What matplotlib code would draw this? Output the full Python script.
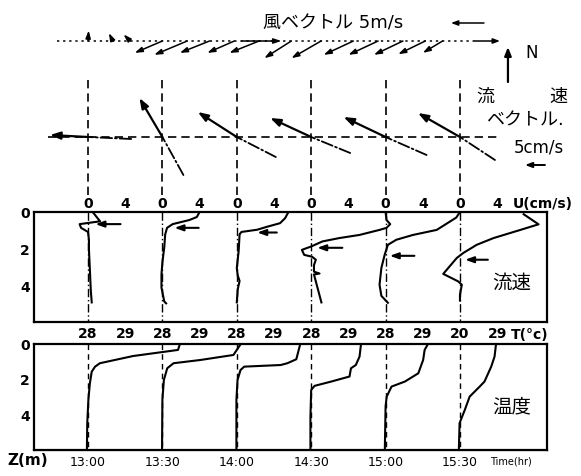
import matplotlib
matplotlib.use("Agg")
import matplotlib.pyplot as plt

plt.rcParams['font.family'] = ['DejaVu Sans', 'Noto Sans CJK JP']

# ---------------- data ----------------
times = [13.0, 13.5, 14.0, 14.5, 15.0, 15.5]          # hours
time_labels = ['13:00', '13:30', '14:00', '14:30', '15:00', '15:30']

# wind (minutes after 13:00, east / north components in m/s)
wind_min = [0, 10, 17, 30, 40, 49, 59, 62, 69, 82, 94, 107, 117, 127, 136, 143]
wind_u = [0.1, -0.6, -1.0, -4.2, -5.0, -4.5, -4.1, 6.0, -4.5, -4.1, -4.5, -4.5, -4.5, -4.4, -4.1, -3.0]
wind_v = [1.6, 1.2, 1.0, -1.8, -2.1, -1.8, -1.8, 0.0, -1.8, -2.6, -2.6, -2.1, -2.1, -2.1, -2.0, -1.8]

# current vectors (cm/s): surface (solid) and lower layer (dash-dot)
surf_u = [-9.5, -5.75, -9.75, -10.25, -10.5, -10.5]
surf_v = [0.5, 9.75, 6.25, 4.75, 5.0, 6.0]
bot_u = [10.8, 5.25, 9.75, 9.75, 10.25, 8.75]
bot_v = [-0.5, -9.5, -5.0, -4.0, -4.5, -5.75]

# velocity profiles U (cm/s) vs depth (m)
u_depth = [
    [0.0, 0.5, 0.65, 0.85, 1.07, 1.5, 2.0, 3.1, 4.2, 4.85],
    [0.0, 0.27, 0.43, 0.65, 0.85, 1.2, 1.9, 2.7, 3.35, 4.05, 4.8, 4.9],
    [0.05, 0.33, 0.6, 0.8, 0.95, 1.07, 1.2, 2.1, 3.0, 3.4, 3.7, 4.15, 4.85],
    [0.0, 0.43, 0.65, 0.85, 0.96, 1.23, 1.4, 1.58, 1.85, 2.03, 2.3, 2.4, 2.56, 2.85, 3.2, 3.3, 3.35, 4.85],
    [0.0, 0.3, 0.96, 1.23, 1.49, 1.76, 2.3, 3.0, 3.9, 4.5, 4.87],
    [0.12, 0.66, 0.96, 1.4, 1.76, 2.2, 2.47, 3.32, 3.72, 3.9, 4.43, 4.75],
]
u_speed = [
    [0.5, 1.3, -0.9, -0.75, 0.0, 0.1, 0.1, 0.2, 0.3, 0.4],
    [4.0, 3.7, 2.9, 1.1, 0.5, 0.3, 0.2, 0.0, -0.1, -0.1, 0.2, 0.4],
    [5.5, 5.2, 4.65, 3.2, 2.2, 0.5, 0.3, 0.2, 0.0, 0.1, 0.3, 0.1, 0.0],
    [8.0, 8.1, 8.5, 8.1, 7.35, 5.2, 3.0, 1.2, 0.0, -1.0, -0.75, 0.1, 0.5, 0.3, 0.3, 0.9, 0.3, 1.1],
    [8.0, 7.6, 5.5, 2.95, 1.15, 0.25, -0.1, -0.45, -0.65, -0.45, 0.25],
    [6.85, 8.45, 6.5, 3.6, 1.8, 0.35, -0.35, -1.8, -0.2, 0.2, 0.0, 0.0],
]
# marker arrows in the velocity panel (depth, start U, end U)
mark_depth = [0.65, 0.85, 1.1, 1.92, 2.35, 2.56]
mark_u0 = [3.5, 3.9, 4.3, 3.35, 3.1, 3.0]
mark_u1 = [0.8, 1.3, 2.2, 0.65, 0.45, 0.55]

# temperature profiles T (deg C) vs depth (m)
t_depth = [
    [0.0, 0.33, 0.67, 1.07, 1.26, 1.54, 2.19, 3.1, 4.4, 5.9],
    [0.05, 0.61, 0.89, 1.07, 1.35, 2.0, 3.1, 5.9],
    [0.05, 0.85, 1.07, 1.17, 1.26, 1.45, 2.0, 3.1, 5.9],
    [0.0, 0.7, 1.17, 1.35, 1.81, 2.09, 2.33, 2.56, 4.04, 5.9],
    [0.0, 0.33, 0.89, 1.63, 2.09, 2.37, 2.93, 3.48, 5.9],
    [0.0, 0.7, 1.26, 2.09, 2.37, 2.93, 3.67, 4.4, 5.9],
]
t_temp = [
    [30.47, 30.42, 29.21, 28.32, 28.19, 28.1, 28.05, 28.01, 27.98, 27.97],
    [30.09, 29.91, 29.02, 28.3, 28.13, 28.04, 28.0, 27.99],
    [29.7, 29.6, 29.36, 29.18, 28.2, 28.1, 28.02, 27.99, 27.99],
    [29.34, 29.3, 29.2, 29.07, 29.03, 28.54, 28.09, 28.0, 27.98, 27.98],
    [29.14, 29.05, 29.01, 28.88, 28.52, 28.16, 28.03, 28.0, 27.98],
    [28.97, 28.93, 28.84, 28.66, 28.53, 28.26, 28.13, 27.99, 27.97],
]

u_ticks = [0, 4]
t_ticks = [28, 29]
t_base_labels = ['28', '28', '28', '28', '28', '20']

# ---------------- layout ----------------
W, H = 581, 476
U_SCALE = 1 / 16.0      # hours per cm/s in the velocity panel
T_SCALE = 1 / 4.0       # hours per deg C in the temperature panel
T_REF = 28.0
WIND_PT = 4.75          # points per m/s
CUR_PT = 2.88           # points per cm/s
XLIM = (12.637, 16.085)
ZMAX = 5.9


def px2h(px):
    return 13.0 + (px - 88) / 148.8


def box(l, t, r, b):
    return [l / W, 1 - b / H, (r - l) / W, (b - t) / H]


fig = plt.figure(figsize=(W / 100, H / 100), dpi=100)
ax_v = fig.add_axes(box(34, 0, 547, 212))
ax_u = fig.add_axes(box(34, 212, 547, 322))
ax_t = fig.add_axes(box(34, 344, 547, 450))

tick_font = dict(fontsize=10, fontweight='bold')

# ---------- vector area ----------
ax_v.set_xlim(*XLIM)
ax_v.set_ylim(212, 0)
ax_v.axis('off')

# wind stick plot
y_w = 41
ax_v.plot([px2h(57), px2h(475)], [y_w, y_w], color='k', lw=1.1, ls=(0, (1.5, 2.5)))
ax_v.annotate('', xy=(px2h(500), y_w), xytext=(px2h(475), y_w),
              arrowprops=dict(arrowstyle='-|>,head_length=0.4,head_width=0.15',
                              color='k', lw=1.1, shrinkA=0, shrinkB=0))
for m, u, v in zip(wind_min, wind_u, wind_v):
    ax_v.annotate('', xy=(13.0 + m / 60.0, y_w), xytext=(u * WIND_PT, v * WIND_PT),
                  textcoords='offset points',
                  arrowprops=dict(arrowstyle='<|-,head_length=0.45,head_width=0.15',
                                  color='k', lw=1.1, shrinkA=0, shrinkB=0))

ax_v.text(px2h(263), 23, '風ベクトル 5m/s', fontsize=13, va='center', ha='left')
ax_v.annotate('', xy=(px2h(484), 23), xytext=(-5 * WIND_PT, 0), textcoords='offset points',
              arrowprops=dict(arrowstyle='<|-,head_length=0.4,head_width=0.15',
                              color='k', lw=1.1, shrinkA=0, shrinkB=0))
ax_v.annotate('', xy=(px2h(508), 47), xytext=(px2h(508), 82),
              arrowprops=dict(arrowstyle='-|>,head_length=0.5,head_width=0.2',
                              color='k', lw=1.6, shrinkA=0, shrinkB=0))
ax_v.text(px2h(532), 53, 'N', fontsize=12, va='center', ha='center')

# current vectors
y_c = 137
ax_v.plot([px2h(48), px2h(497)], [y_c, y_c], color='k', lw=1.2, ls=(0, (5, 3)))
for t in times:
    ax_v.plot([t, t], [80, 197], color='k', lw=1.2, ls=(0, (5, 3)))
for t, su, sv, bu, bv in zip(times, surf_u, surf_v, bot_u, bot_v):
    ax_v.annotate('', xy=(t, y_c), xytext=(bu * CUR_PT, bv * CUR_PT), textcoords='offset points',
                  arrowprops=dict(arrowstyle='-', color='k', lw=1.3, ls='-.',
                                  shrinkA=0, shrinkB=0))
    ax_v.annotate('', xy=(t, y_c), xytext=(su * CUR_PT, sv * CUR_PT), textcoords='offset points',
                  arrowprops=dict(arrowstyle='<|-,head_length=0.6,head_width=0.22',
                                  color='k', lw=1.6, shrinkA=0, shrinkB=0))

ax_v.text(px2h(485), 97, '流', fontsize=13, va='center', ha='center')
ax_v.text(px2h(558), 97, '速', fontsize=13, va='center', ha='center')
ax_v.text(px2h(525), 120, 'ベクトル.', fontsize=13, va='center', ha='center')
ax_v.text(px2h(539), 148, '5cm/s', fontsize=12, va='center', ha='center')
ax_v.annotate('', xy=(px2h(545), 165), xytext=(-5 * CUR_PT, 0), textcoords='offset points',
              annotation_clip=False,
              arrowprops=dict(arrowstyle='<|-,head_length=0.4,head_width=0.15',
                              color='k', lw=1.4, shrinkA=0, shrinkB=0))

# ---------- velocity panel ----------
ax_u.set_xlim(*XLIM)
ax_u.set_ylim(ZMAX, 0)
for t in times:
    ax_u.plot([t, t], [0, ZMAX], color='k', lw=1.0, ls=(0, (6, 2, 1, 2)))
for t, d, u in zip(times, u_depth, u_speed):
    ax_u.plot([t + s * U_SCALE for s in u], d, color='k', lw=1.5)
for t, d, a, b in zip(times, mark_depth, mark_u0, mark_u1):
    ax_u.annotate('', xy=(t + b * U_SCALE, d), xytext=(t + a * U_SCALE, d),
                  arrowprops=dict(arrowstyle='-|>,head_length=0.5,head_width=0.18',
                                  color='k', lw=1.5, shrinkA=0, shrinkB=0))
ax_u.set_xticks([t + s * U_SCALE for t in times for s in u_ticks])
ax_u.set_xticklabels([str(s) for t in times for s in u_ticks], **tick_font)
ax_u.xaxis.tick_top()
ax_u.tick_params(axis='x', length=0, pad=1)
ax_u.set_yticks([0, 2, 4])
ax_u.set_yticklabels(['0', '2', '4'], **tick_font)
ax_u.tick_params(axis='y', length=0, pad=3)
ax_u.text(px2h(513), -0.45, 'U(cm/s)', fontsize=10, fontweight='bold', ha='left', va='center')
ax_u.text(px2h(512), 3.8, '流速', fontsize=14, ha='center', va='center')

# ---------- temperature panel ----------
ax_t.set_xlim(*XLIM)
ax_t.set_ylim(ZMAX, 0)
for t in times:
    ax_t.plot([t, t], [0, ZMAX], color='k', lw=1.0, ls=(0, (4, 3)))
for t, d, tt in zip(times, t_depth, t_temp):
    ax_t.plot([t + (x - T_REF) * T_SCALE for x in tt], d, color='k', lw=1.5)
ax_t.set_xticks([t + (x - T_REF) * T_SCALE for t in times for x in t_ticks])
ax_t.set_xticklabels([lab for b in t_base_labels for lab in (b, '29')], **tick_font)
ax_t.xaxis.tick_top()
ax_t.tick_params(axis='x', length=0, pad=2)
ax_t.set_yticks([0, 2, 4])
ax_t.set_yticklabels(['0', '2', '4'], **tick_font)
ax_t.tick_params(axis='y', length=0, pad=3)
ax_t.text(px2h(530), -0.5, 'T(°c)', fontsize=10, fontweight='bold', ha='center', va='center')
ax_t.text(px2h(512), 3.5, '温度', fontsize=14, ha='center', va='center')

sec = ax_t.secondary_xaxis('bottom')
sec.set_xticks(times)
sec.set_xticklabels(time_labels, fontsize=9)
sec.tick_params(length=0, pad=4)
ax_t.text(px2h(7), 6.5, 'Z(m)', fontsize=11, fontweight='bold', ha='left', va='center')
ax_t.text(px2h(490), 6.55, 'Time(hr)', fontsize=7, ha='left', va='center')

for ax in (ax_u, ax_t):
    for sp in ax.spines.values():
        sp.set_linewidth(1.6)

fig.savefig('out.png', dpi=100)
